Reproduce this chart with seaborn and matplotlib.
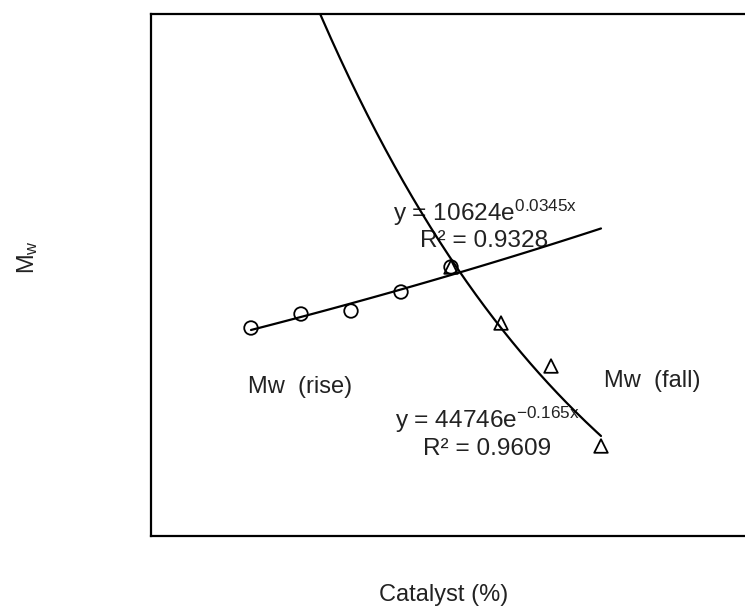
import numpy as np
import pandas as pd
import matplotlib
matplotlib.use("Agg")
import matplotlib.pyplot as plt
import seaborn as sns

# ---- data ----
rise_x = [1, 2, 3, 4, 5]
rise_mw = [11056, 11470, 11559, 12121, 12861]
fall_x = [5, 6, 7, 8]
fall_mw = [19260, 16838, 14979, 11521]

# displayed trendline coefficients (y = a * exp(b x))
rise_a, rise_b, rise_r2 = 10624, 0.0345, "0.9328"
fall_a, fall_b, fall_r2 = 44746, -0.165, "0.9609"
rise_trend_range = [1, 8]
fall_trend_range = [2, 8]

sns.set_theme(style="white")
plt.rcParams["font.family"] = ["Liberation Sans", "DejaVu Sans"]
plt.rcParams["mathtext.fontset"] = "custom"
plt.rcParams["mathtext.rm"] = "Liberation Sans"
plt.rcParams["mathtext.it"] = "Liberation Sans"

fig = plt.figure(figsize=(7.45, 6.08), dpi=100)
ax = fig.add_axes([151 / 745, 72 / 608, 600 / 745, 522 / 608])
ax2 = ax.twinx()

rise_df = pd.DataFrame({"x": rise_x, "Mw": rise_mw})
fall_df = pd.DataFrame({"x": fall_x, "Mw": fall_mw})

xr = np.linspace(rise_trend_range[0], rise_trend_range[1], 100)
xf = np.linspace(fall_trend_range[0], fall_trend_range[1], 200)
rise_tr = pd.DataFrame({"x": xr, "Mw": rise_a * np.exp(rise_b * xr)})
fall_tr = pd.DataFrame({"x": xf, "Mw": fall_a * np.exp(fall_b * xf)})

sns.lineplot(data=rise_tr, x="x", y="Mw", ax=ax, color="black", lw=1.6)
sns.scatterplot(data=rise_df, x="x", y="Mw", ax=ax, marker="o", s=95,
                facecolor="none", edgecolor="black", linewidth=1.3, zorder=5)

sns.lineplot(data=fall_tr, x="x", y="Mw", ax=ax2, color="black", lw=1.6)
sns.scatterplot(data=fall_df, x="x", y="Mw", ax=ax2, marker="^", s=95,
                facecolor="none", edgecolor="black", linewidth=1.3, zorder=5)

ax.set_xlim(-1, 11)
ax.set_ylim(4902, 20346)
ax2.set_ylim(7630, 30198)

for a in (ax, ax2):
    a.set_xticks([])
    a.set_yticks([])
    a.set_ylabel("")
    for side in ["top", "left", "bottom"]:
        a.spines[side].set_visible(True)
        a.spines[side].set_color("black")
        a.spines[side].set_linewidth(1.6)
    a.spines["right"].set_visible(False)
ax2.spines["left"].set_visible(False)
ax2.spines["bottom"].set_visible(False)
ax2.spines["top"].set_visible(False)

fs = 17
fs_eq = 17.6

ax.set_xlabel("Catalyst (%)", fontsize=fs, color="#222222")
ax.xaxis.set_label_coords(0.488, -0.092)
ax.set_ylabel(r"M$_\mathrm{w}$", fontsize=fs, color="#222222")
ax.yaxis.set_label_coords(-0.205, 0.535)
ax.yaxis.label.set_va("center")

def px(xp, yp):
    return ((xp - 151) / 600, (536 - yp) / 522)

ax.text(*px(485, 221), r"y = 10624e$^{\mathrm{0.0345x}}$", transform=ax.transAxes,
        ha="center", va="baseline", fontsize=fs_eq, color="#222222", zorder=1)
ax.text(*px(484, 247), "R² = " + rise_r2, transform=ax.transAxes,
        ha="center", va="baseline", fontsize=fs_eq, color="#222222", zorder=1)
ax.text(*px(487, 428), r"y = 44746e$^{\mathrm{-0.165x}}$", transform=ax.transAxes,
        ha="center", va="baseline", fontsize=fs_eq, color="#222222", zorder=1)
ax.text(*px(487, 455), "R² = " + fall_r2, transform=ax.transAxes,
        ha="center", va="baseline", fontsize=fs_eq, color="#222222", zorder=1)
ax.text(*px(300, 387), "Mw  (rise)", transform=ax.transAxes,
        ha="center", va="center", fontsize=fs, color="#222222")
ax.text(*px(652, 381), "Mw  (fall)", transform=ax.transAxes,
        ha="center", va="center", fontsize=fs, color="#222222")

fig.savefig("out.png", dpi=100)
